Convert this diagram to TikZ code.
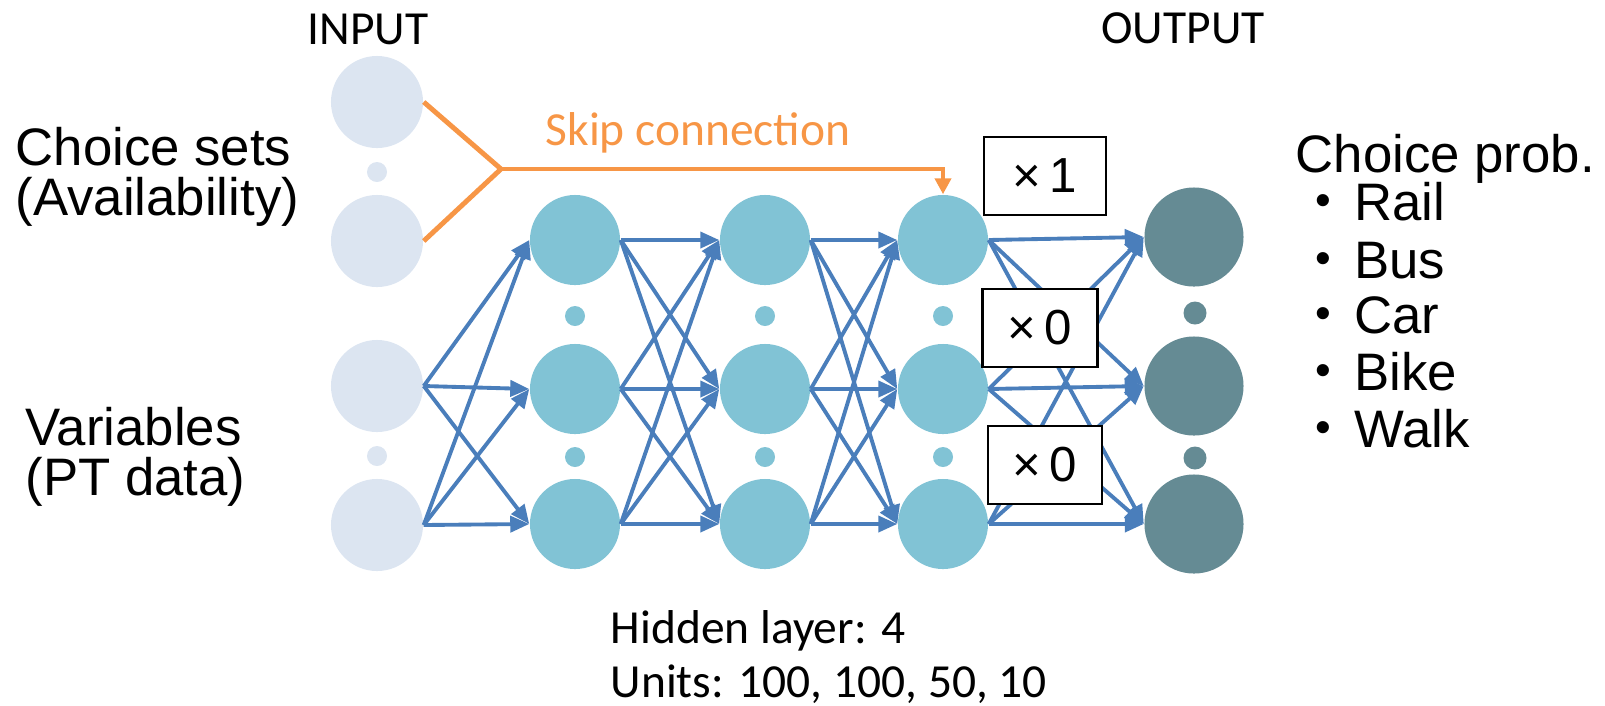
\documentclass[tikz,border=0pt]{standalone}
\usepackage{fontspec}
\setmainfont{Liberation Sans}
\newfontfamily\calib{Carlito}
\usetikzlibrary{arrows.meta}
\definecolor{inpcol}{HTML}{DCE5F1}
\definecolor{hidcol}{HTML}{81C3D5}
\definecolor{outcol}{HTML}{658B94}
\definecolor{linkcol}{HTML}{4A7EBB}
\definecolor{skipcol}{HTML}{F79646}
\newcommand{\bul}{\raisebox{0.05cm}{\scalebox{0.85}{•}}\hspace{0.23cm}}
\begin{document}
\begin{tikzpicture}[x=0.01cm, y=-0.01cm,
  inp/.style={shape=circle, fill=inpcol, minimum size=0.92cm, inner sep=0pt},
  hid/.style={shape=circle, fill=hidcol, minimum size=0.9cm, inner sep=0pt},
  outp/.style={shape=circle, fill=outcol, minimum size=0.99cm, inner sep=0pt},
  smalldot/.style={shape=circle, minimum size=0.2cm, inner sep=0pt},
  link/.style={-{Triangle[length=0.19cm,width=0.16cm]}, line width=1.1pt, draw=linkcol},
  skip/.style={line width=1.4pt, draw=skipcol},
  gain/.style={draw=black, fill=white, line width=0.6pt, minimum height=0.78cm, font=\fontsize{14}{16}\selectfont},
  big/.style={font=\fontsize{15}{18}\selectfont, anchor=base west, inner sep=0pt},
  small/.style={font=\calib\fontsize{13.5}{16}\selectfont, inner sep=0pt}]
\useasboundingbox (0,0) rectangle (1605,705);
% input layer
\node[inp] (i1) at (377,102) {};
\node[inp] (i2) at (377,241) {};
\node[inp] (i3) at (377,386) {};
\node[inp] (i4) at (377,525) {};
\node[smalldot, fill=inpcol] (di1) at (377,172) {};
\node[smalldot, fill=inpcol] (di2) at (377,456) {};
% hidden layers
\node[hid] (h11) at (575,240) {};
\node[hid] (h12) at (575,389) {};
\node[hid] (h13) at (575,524) {};
\node[hid] (h21) at (765,240) {};
\node[hid] (h22) at (765,389) {};
\node[hid] (h23) at (765,524) {};
\node[hid] (h31) at (943,240) {};
\node[hid] (h32) at (943,389) {};
\node[hid] (h33) at (943,524) {};
\node[smalldot, fill=hidcol] (dh11) at (575,316) {};
\node[smalldot, fill=hidcol] (dh12) at (575,457) {};
\node[smalldot, fill=hidcol] (dh21) at (765,316) {};
\node[smalldot, fill=hidcol] (dh22) at (765,457) {};
\node[smalldot, fill=hidcol] (dh31) at (943,316) {};
\node[smalldot, fill=hidcol] (dh32) at (943,457) {};
% output layer
\node[outp] (o1) at (1194,237) {};
\node[outp] (o2) at (1194,386) {};
\node[outp] (o3) at (1194,524) {};
\node[smalldot, fill=outcol, minimum size=0.23cm] (do1) at (1195,313) {};
\node[smalldot, fill=outcol, minimum size=0.23cm] (do2) at (1195,458) {};
% connections
\draw [link] (i3.east) -- (h11.west);
\draw [link] (i3.east) -- (h12.west);
\draw [link] (i3.east) -- (h13.west);
\draw [link] (i4.east) -- (h11.west);
\draw [link] (i4.east) -- (h12.west);
\draw [link] (i4.east) -- (h13.west);
\draw [link] (h11.east) -- (h21.west);
\draw [link] (h11.east) -- (h22.west);
\draw [link] (h11.east) -- (h23.west);
\draw [link] (h12.east) -- (h21.west);
\draw [link] (h12.east) -- (h22.west);
\draw [link] (h12.east) -- (h23.west);
\draw [link] (h13.east) -- (h21.west);
\draw [link] (h13.east) -- (h22.west);
\draw [link] (h13.east) -- (h23.west);
\draw [link] (h21.east) -- (h31.west);
\draw [link] (h21.east) -- (h32.west);
\draw [link] (h21.east) -- (h33.west);
\draw [link] (h22.east) -- (h31.west);
\draw [link] (h22.east) -- (h32.west);
\draw [link] (h22.east) -- (h33.west);
\draw [link] (h23.east) -- (h31.west);
\draw [link] (h23.east) -- (h32.west);
\draw [link] (h23.east) -- (h33.west);
\draw [link] (h31.east) -- (o1.west);
\draw [link] (h31.east) -- (o2.west);
\draw [link] (h31.east) -- (o3.west);
\draw [link] (h32.east) -- (o1.west);
\draw [link] (h32.east) -- (o2.west);
\draw [link] (h32.east) -- (o3.west);
\draw [link] (h33.east) -- (o1.west);
\draw [link] (h33.east) -- (o2.west);
\draw [link] (h33.east) -- (o3.west);
% skip connection
\coordinate (fork) at (501,169);
\coordinate (bend) at (943,169);
\draw [skip] (i1.east) -- (fork) -- (i2.east);
\draw [skip, -{Triangle[length=0.16cm,width=0.16cm]}] (fork) -- (bend) -- (h31.north);
\node[small, anchor=base west, text=skipcol] (skiplabel) at (545,145) {Skip connection};
% gates
\node[gain, minimum width=1.22cm] (g1) at (1045,176) {×\,1};
\node[gain, minimum width=1.15cm] (g2) at (1040,328) {×\,0};
\node[gain, minimum width=1.14cm] (g3) at (1045,465) {×\,0};
% labels
\node[small, anchor=base] (intitle) at (368,44) {INPUT};
\node[small, anchor=base] (outtitle) at (1183,43) {OUTPUT};
\node[big] (csets) at (15,165) {Choice sets};
\node[big] (avail) at (15,215) {(Availability)};
\node[big] (vars) at (25,445) {Variables};
\node[big] (ptdata) at (25,495) {(PT data)};
\node[big] (cprob) at (1295,172) {Choice prob.};
\node[big] (rail) at (1315,220) {\bul Rail};
\node[big] (bus) at (1315,278) {\bul Bus};
\node[big] (car) at (1315,333) {\bul Car};
\node[big] (bike) at (1315,390) {\bul Bike};
\node[big] (walk) at (1315,447) {\bul Walk};
\node[small, anchor=base west] (nlayer) at (610,643) {Hidden layer: 4};
\node[small, anchor=base west] (nunits) at (610,697) {Units: 100, 100, 50, 10};
\end{tikzpicture}
\end{document}
